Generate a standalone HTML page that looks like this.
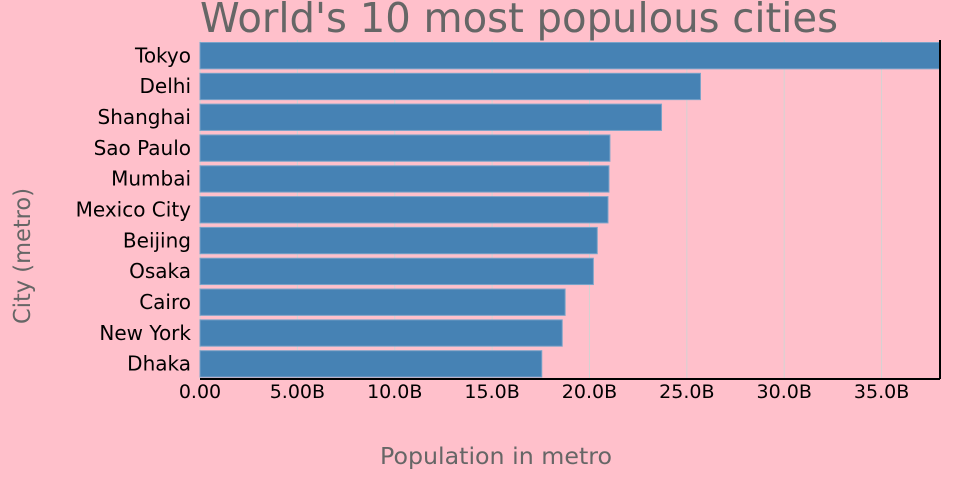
<!DOCTYPE html>
<html><head><meta charset="utf-8"><style>
body{margin:0;background:pink;}
svg{display:block;font-family:"DejaVu Sans","Liberation Sans",sans-serif;}
</style></head><body>
<svg id="chart" width="960" height="500">
<rect width="960" height="500" fill="pink"/>
<text x="519" y="32" text-anchor="middle" font-size="41" fill="#666" textLength="638" lengthAdjust="spacingAndGlyphs">World's 10 most populous cities</text>
<g id="grid"></g><g id="bars"></g><g id="ylabels"></g><g id="xlabels"></g>
<line x1="200" y1="379" x2="940" y2="379" stroke="#000" stroke-width="2"/>
<line x1="940" y1="40" x2="940" y2="379" stroke="#000" stroke-width="2"/>
<text x="496" y="464" text-anchor="middle" font-size="23" fill="#666" textLength="232" lengthAdjust="spacingAndGlyphs">Population in metro</text>
<text transform="translate(30,256) rotate(-90)" text-anchor="middle" font-size="23" fill="#666" textLength="136" lengthAdjust="spacingAndGlyphs">City (metro)</text>
</svg>
<script>
const cities=["Tokyo","Delhi","Shanghai","Sao Paulo","Mumbai","Mexico City","Beijing","Osaka","Cairo","New York","Dhaka"];
const populations=[38.0,25.7,23.7,21.05,21.0,20.95,20.4,20.2,18.75,18.6,17.55];
const tickValues=[0,5,10,15,20,25,30,35];
const tickLabels=["0.00","5.00B","10.0B","15.0B","20.0B","25.0B","30.0B","35.0B"];
const NS="http://www.w3.org/2000/svg";
const x0=200,x1=940,xmax=38.0,yTop=40,yBot=379;
const band=(yBot-yTop)/cities.length;
function xs(v){return x0+(v/xmax)*(x1-x0);}
function ys(i){return yTop+i*band;}
function mk(t,a,p){const e=document.createElementNS(NS,t);for(const k in a)e.setAttribute(k,a[k]);p.appendChild(e);return e;}
const g=document.getElementById('grid'),b=document.getElementById('bars'),yl=document.getElementById('ylabels'),xl=document.getElementById('xlabels');
tickValues.forEach((v,i)=>{
  const l=mk('line',{x1:xs(v),x2:xs(v),y1:yTop,y2:yBot,stroke:'#d3d3d3','stroke-width':1},g);
  
  
  const t=mk('text',{x:xs(v),y:398,'text-anchor':'middle','font-size':19,fill:'#000'},xl);
  t.textContent=tickLabels[i];
  
  
});
cities.forEach((c,i)=>{
  const r=mk('rect',{x:x0,y:ys(i)+2.5,width:xs(populations[i])-x0,height:band-4.5,fill:'steelblue',stroke:'#7aa3c8','stroke-width':1},b);
  
  
  const t=mk('text',{x:191,y:ys(i)+band/2+7,'text-anchor':'end','font-size':20,fill:'#000'},yl);
  t.textContent=c;
  
  
});
</script>
</body></html>
